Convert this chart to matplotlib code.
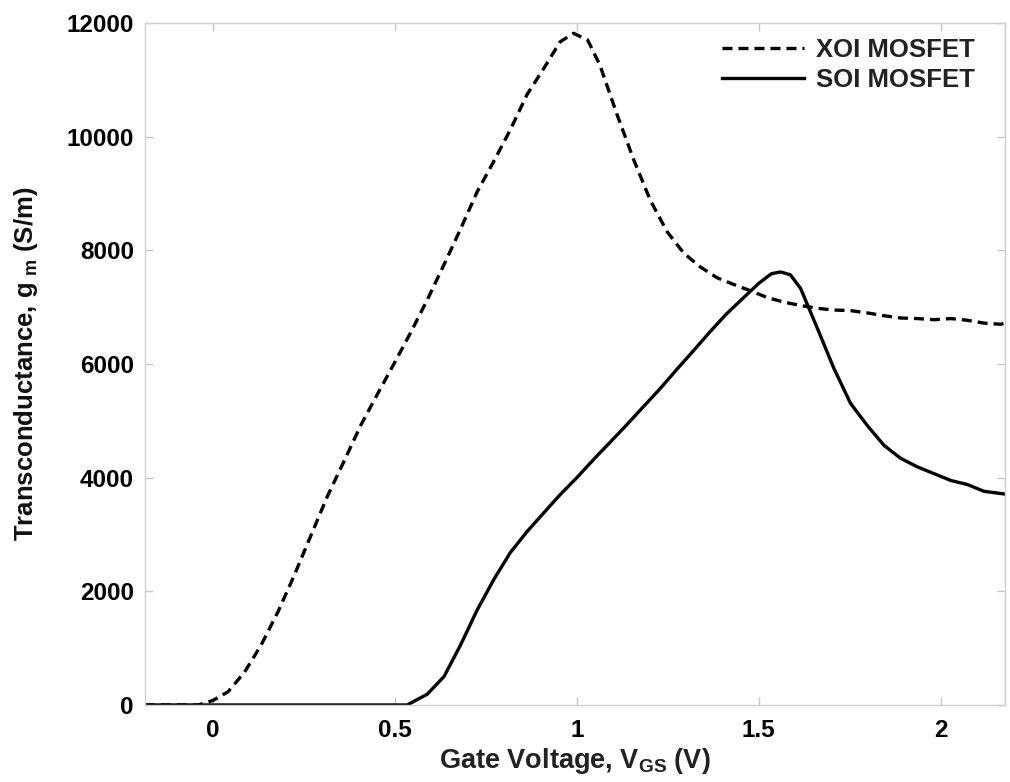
import numpy as np
import matplotlib
matplotlib.use("Agg")
import matplotlib.pyplot as plt

plt.rcParams['font.family'] = ['Liberation Sans', 'DejaVu Sans']
plt.rcParams['font.weight'] = 'bold'
plt.rcParams['axes.labelweight'] = 'bold'
plt.rcParams['mathtext.fontset'] = 'custom'
plt.rcParams['mathtext.rm'] = 'Liberation Sans:bold'
plt.rcParams['mathtext.bf'] = 'Liberation Sans:bold'
plt.rcParams['mathtext.default'] = 'bf'

# gate voltage (V) and transconductance (S/m), XOI device
xoi_vgs = [-0.187, -0.04, 0.0, 0.041, 0.087, 0.132, 0.178, 0.224, 0.269, 0.315,
           0.361, 0.406, 0.452, 0.498, 0.543, 0.589, 0.635, 0.680, 0.726, 0.772,
           0.817, 0.863, 0.909, 0.954, 0.991, 1.030, 1.064, 1.110, 1.156, 1.202,
           1.248, 1.294, 1.339, 1.385, 1.431, 1.477, 1.523, 1.569, 1.615, 1.661,
           1.706, 1.752, 1.798, 1.844, 1.890, 1.936, 1.982, 2.028, 2.073, 2.119,
           2.165, 2.190]
xoi_gm = [0, 0, 80, 230, 580, 1050, 1630, 2290, 2980, 3680,
          4300, 4920, 5470, 6010, 6550, 7130, 7750, 8370, 9030, 9570,
          10120, 10740, 11200, 11670, 11820, 11700, 11250, 10400, 9600, 8880,
          8330, 7950, 7710, 7520, 7400, 7290, 7170, 7090, 7030, 6980,
          6950, 6940, 6900, 6850, 6810, 6800, 6780, 6800, 6770, 6720,
          6700, 6740]

# SOI device
soi_vgs = [-0.187, 0.534, 0.589, 0.635, 0.680, 0.726, 0.772, 0.817, 0.863, 0.909,
           0.954, 1.000, 1.046, 1.091, 1.137, 1.183, 1.228, 1.274, 1.320, 1.365,
           1.411, 1.457, 1.500, 1.535, 1.560, 1.587, 1.615, 1.661, 1.706, 1.752,
           1.798, 1.844, 1.890, 1.936, 1.982, 2.028, 2.073, 2.119, 2.190]
soi_gm = [0, 0, 190, 500, 1050, 1670, 2210, 2680, 3050, 3380,
          3700, 4000, 4320, 4620, 4930, 5250, 5560, 5900, 6230, 6560,
          6880, 7160, 7420, 7590, 7620, 7570, 7330, 6630, 5930, 5310,
          4920, 4570, 4340, 4190, 4070, 3950, 3880, 3760, 3700]

fig = plt.figure(figsize=(10.10, 7.82), dpi=100)
ax = fig.add_axes([0.1435, 0.0985, 0.852, 0.872])

ax.plot(xoi_vgs, xoi_gm, color='black', lw=2.4, dashes=[3.0, 1.8],
        label='XOI MOSFET')
ax.plot(soi_vgs, soi_gm, color='black', lw=2.4, label='SOI MOSFET')

ax.set_xlim(-0.187, 2.178)
ax.set_ylim(0, 12000)
ax.set_xticks([0, 0.5, 1, 1.5, 2])
ax.set_xticklabels(['0', '0.5', '1', '1.5', '2'])
ax.set_yticks(np.arange(0, 12001, 2000))

for s in ax.spines.values():
    s.set_color('#cfcfcf')
    s.set_linewidth(1.0)
ax.tick_params(direction='in', length=6, color='#c8c8c8', width=1,
               top=True, right=True, labelsize=17.5, pad=10)
ax.tick_params(axis='y', pad=8)

ax.set_xlabel(r'Gate Voltage, V$_{GS}$ (V)', fontsize=19.5, color='#222222',
              labelpad=3)
ax.set_ylabel(r'Transconductance, g$_{\ m}$ (S/m)', fontsize=18.5,
              color='#111111', labelpad=19)

leg = ax.legend(loc='upper right', frameon=False, fontsize=18.5,
                handlelength=3.2, handletextpad=0.45, labelspacing=0.2,
                borderaxespad=0.2, bbox_to_anchor=(0.982, 1.0))
for t in leg.get_texts():
    t.set_color('#222222')

fig.savefig('out.png', dpi=100)
